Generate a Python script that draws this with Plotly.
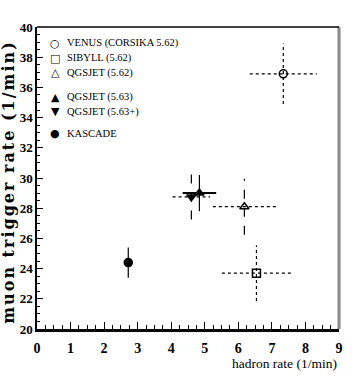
"""Muon trigger rate vs hadron rate: model predictions vs KASCADE."""

import plotly.graph_objects as go

# data
names = [
    "VENUS (CORSIKA 5.62)",
    "SIBYLL (5.62)",
    "QGSJET (5.62)",
    "QGSJET (5.63)",
    "QGSJET (5.63+)",
    "KASCADE",
]
hadron_rate = [7.34, 6.54, 6.18, 4.84, 4.60, 2.72]
hadron_err = [1.00, 1.03, 0.94, 0.50, 0.56, 0.0]
muon_rate = [36.9, 23.7, 28.1, 29.0, 28.75, 24.4]
muon_err = [2.0, 1.85, 1.85, 1.2, 1.5, 1.0]

symbols = ["circle-open", "square-open", "triangle-up-open",
           "triangle-up", "triangle-down", "circle"]
legend_glyphs = ["○", "□", "△", "▲", "▼", "●"]
xerr_dash = ["dot", "dot", "dot", "solid", "dot", "solid"]
yerr_dash = ["dot", "dot", "dash", "solid", "dash", "solid"]

# legend row positions (paper fraction) - rows are grouped 3 / 2 / 1
LEGEND_ROWS = [0.947, 0.897, 0.848, 0.768, 0.719, 0.646]

FONT = "Liberation Serif"

fig = go.Figure()

for i, name in enumerate(names):
    x, y = hadron_rate[i], muon_rate[i]
    if hadron_err[i] > 0:
        fig.add_trace(go.Scatter(
            x=[x - hadron_err[i], x + hadron_err[i]], y=[y, y],
            mode="lines", showlegend=False, hoverinfo="skip",
            line={"color": "black", "width": 1.3 if xerr_dash[i] == "dot" else 2,
                  "dash": xerr_dash[i]},
        ))
    fig.add_trace(go.Scatter(
        x=[x, x], y=[y - muon_err[i], y + muon_err[i]],
        mode="lines", showlegend=False, hoverinfo="skip",
        line={"color": "black", "width": 1.2, "dash": yerr_dash[i]},
    ))

for i, name in enumerate(names):
    fig.add_trace(go.Scatter(
        x=[hadron_rate[i]], y=[muon_rate[i]],
        mode="markers", name=name, showlegend=False,
        marker={"symbol": symbols[i], "size": 8, "color": "black",
                "line": {"color": "black", "width": 1.5}},
    ))

# hand-made legend so the row spacing matches the original
for glyph, name, ypos in zip(legend_glyphs, names, LEGEND_ROWS):
    fig.add_annotation(
        text=glyph, xref="paper", yref="paper", x=0.06, y=ypos,
        showarrow=False, xanchor="center", yanchor="middle",
        font={"family": "DejaVu Sans", "size": 11, "color": "black"},
    )
    fig.add_annotation(
        text=name, xref="paper", yref="paper", x=0.092, y=ypos,
        showarrow=False, xanchor="left", yanchor="middle",
        font={"family": FONT, "size": 10.5, "color": "black"},
    )

fig.add_annotation(
    text='<span style="letter-spacing:2px">muon trigger rate (1/min)</span>',
    textangle=-90,
    xref="paper", yref="paper", x=-0.093, y=0.487,
    showarrow=False, xanchor="center", yanchor="middle",
    font={"family": "DejaVu Serif", "size": 16, "color": "black", "weight": "bold"},
)
fig.add_annotation(
    text="hadron rate (1/min)",
    xref="paper", yref="paper", x=1.0, y=-0.115,
    showarrow=False, xanchor="right", yanchor="middle",
    font={"family": FONT, "size": 13.5, "color": "black"},
)

fig.update_xaxes(
    range=[0, 9], dtick=1, tick0=0, automargin=False,
    ticks="inside", ticklen=7, tickwidth=1, tickcolor="black",
    minor={"dtick": 0.25, "ticks": "inside", "ticklen": 4, "tickcolor": "black"},
    showline=True, linecolor="black", linewidth=2.5, mirror=False,
    showgrid=False, zeroline=False, ticklabelstandoff=4,
    tickfont={"family": FONT, "size": 14, "color": "black", "weight": "bold"},
)
fig.update_yaxes(
    range=[20, 40], dtick=2, tick0=20, automargin=False,
    ticks="inside", ticklen=6, tickwidth=1, tickcolor="black",
    minor={"dtick": 0.5, "ticks": "inside", "ticklen": 3, "tickcolor": "black"},
    showline=True, linecolor="black", linewidth=1.5,
    showgrid=False, zeroline=False,
    tickfont={"family": FONT, "size": 13, "color": "black", "weight": "bold"},
)

# right and top frame
fig.add_shape(type="line", xref="paper", yref="paper", x0=1, x1=1, y0=0, y1=1,
              line={"color": "#8a8a8a", "width": 3})
fig.add_shape(type="line", xref="paper", yref="paper", x0=0, x1=1, y0=1, y1=1,
              line={"color": "black", "width": 1.5})

fig.update_layout(
    width=354, height=382,
    margin={"l": 37, "r": 15, "t": 27, "b": 53, "autoexpand": False},
    paper_bgcolor="white", plot_bgcolor="white",
    font={"family": FONT, "color": "black"},
    showlegend=False,
)

fig.write_html(
    "out.html",
    config={"displayModeBar": False},
    post_script="document.body.style.margin='0';",
)
